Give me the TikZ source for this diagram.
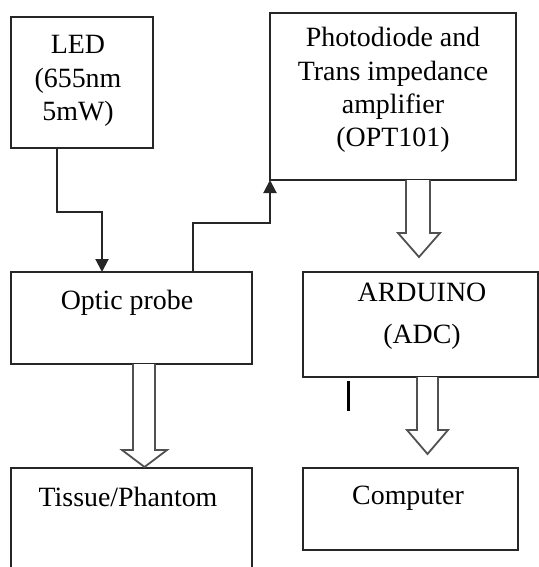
\documentclass[tikz,border=0pt]{standalone}
\usepackage{fontspec}
\setmainfont{Liberation Serif}
\usetikzlibrary{arrows.meta}
\definecolor{ink}{HTML}{262626}
\begin{document}
\begin{tikzpicture}[x=1bp,y=-1bp,
  box/.style={draw=ink,line width=2bp,outer sep=0pt,inner sep=0pt,rectangle,anchor=north west},
  lbl/.style={font=\fontsize{28}{33.5}\selectfont,align=center,inner sep=0pt,text=black},
  conn/.style={draw=ink,line width=2bp,-{Triangle[length=13bp,width=13bp]}},
  hollow/.style={draw=ink!80,line width=1.8bp,fill=white,line join=miter}]
\useasboundingbox (0,0) rectangle (539,567);
\begin{scope}
\clip (0,0) rectangle (539,567);
% boxes
\node[box,minimum width=142bp,minimum height=131bp] (led) at (11,17) {};
\node[box,minimum width=246bp,minimum height=167bp] (photo) at (270,13) {};
\node[box,minimum width=241bp,minimum height=92bp] (optic) at (11,272) {};
\node[box,minimum width=235bp,minimum height=105bp] (ard) at (303,272) {};
\node[box,minimum width=241bp,minimum height=115bp] (tissue) at (11,468) {};
\node[box,minimum width=215bp,minimum height=82bp] (comp) at (303,468) {};
% labels
\node[lbl] (ledt) at (78,81) {LED\\(655nm\\5mW)};
\node[lbl] (photot) at (393,90) {Photodiode and\\Trans impedance\\amplifier\\(OPT101)};
\node[lbl] (optict) at (127,303) {Optic probe};
\node[lbl] (ardt) at (422,316) {ARDUINO\\[8.5bp](ADC)};
\node[lbl] (tissuet) at (128,497) {Tissue/Phantom};
\node[lbl] (compt) at (408,498) {Computer};
% line connectors
\draw[conn] ([xshift=-25bp]led.south) -- ++(0,64) -| ([xshift=-29.5bp]optic.north);
\draw[conn] ([xshift=61.5bp]optic.north) -- ++(0,-49) -| (photo.south west);
% hollow arrows
\draw[hollow] ([xshift=13bp]photo.south) -- ++(0,53) -- ++(-8,0) -- ++(21,24) -- ++(21,-24) -- ++(-10,0) -- ++(0,-53);
\draw[hollow] ([xshift=1.5bp]optic.south) -- ++(0,86) -- ++(-11,0) -- ++(22.5,17) -- ++(22.5,-17) -- ++(-12,0) -- ++(0,-86);
\draw[hollow] ([xshift=-3.5bp]ard.south) -- ++(0,53) -- ++(-10,0) -- ++(20.5,24) -- ++(20.5,-24) -- ++(-10,0) -- ++(0,-53);
% stray mark
\draw[black,line width=3bp] (348,381) -- (348,411);
\end{scope}
\end{tikzpicture}
\end{document}
